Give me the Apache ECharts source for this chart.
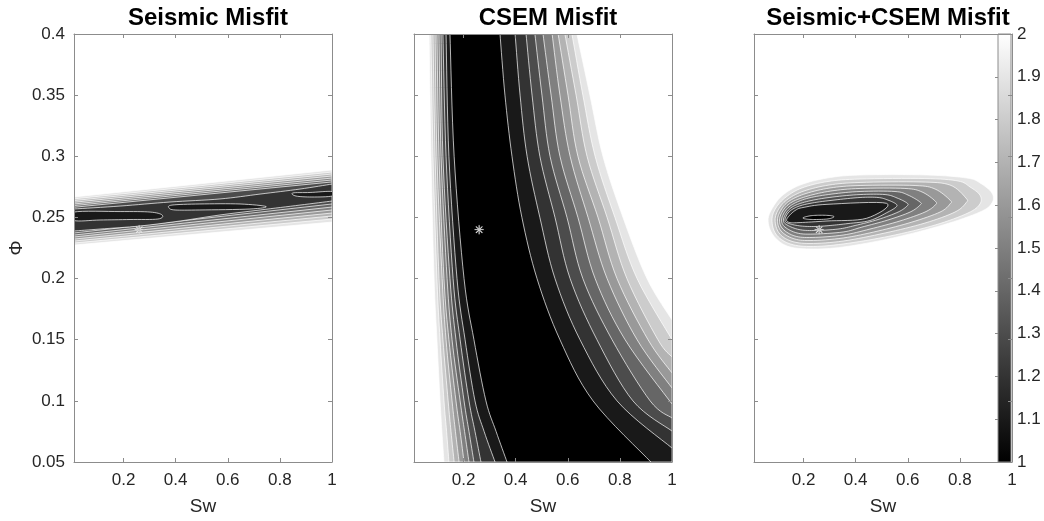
<!DOCTYPE html>
<html>
<head>
<meta charset="utf-8">
<script src="https://cdn.jsdelivr.net/npm/echarts@6/dist/echarts.min.js"></script>
<style>
  html, body { margin: 0; padding: 0; background: #ffffff; }
  #chart { width: 1044px; height: 521px; }
</style>
</head>
<body>
<div id="chart"></div>
<script>
// ---------- axes ----------
const panelTitles = ['Seismic Misfit', 'CSEM Misfit', 'Seismic+CSEM Misfit'];
const swRange = [0.01, 1];
const swTicks = [0.2, 0.4, 0.6, 0.8, 1];
const phiRange = [0.05, 0.4];
const phiStep = 0.05;
const misfitRange = [1, 2];
const misfitStep = 0.1;
const trueModel = [0.26, 0.24];           // [Sw, Φ] marked with an asterisk

// ---------- Seismic misfit ----------
// outer levels: nearly straight bands, Φ at Sw = 0.01 and Sw = 1
const seismicLevels = [2.0, 1.9, 1.8, 1.7, 1.6, 1.5, 1.4];
const seismicTop = [
  [0.2667, 0.2888], [0.2652, 0.2871], [0.2638, 0.2855], [0.2624, 0.2839],
  [0.2610, 0.2822], [0.2597, 0.2806], [0.2583, 0.2790]
];
const seismicBottom = [
  [0.2274, 0.2462], [0.2291, 0.2487], [0.2307, 0.2512], [0.2323, 0.2536],
  [0.2340, 0.2561], [0.2356, 0.2585], [0.2373, 0.2610]
];
// level 1.3 contour (dark core): upper and lower edges
const seismicCoreTop = [
  [0.01, 0.2569], [0.187, 0.2593], [0.378, 0.2626], [0.570, 0.2651], [0.724, 0.2691],
  [0.877, 0.2732], [1.0, 0.2773]
];
const seismicCoreBottom = [
  [1.0, 0.2634], [0.877, 0.2601], [0.724, 0.2561], [0.570, 0.2520], [0.417, 0.2471],
  [0.263, 0.2430], [0.110, 0.2405], [0.01, 0.2389]
];
// level 1.2 contours (three elongated minima)
const seismicLenses = [
  [[0.01, 0.2544], [0.187, 0.2548], [0.302, 0.2544], [0.348, 0.2520], [0.332, 0.2487],
   [0.225, 0.2483], [0.110, 0.2479], [0.01, 0.2475]],
  [[0.386, 0.2601], [0.493, 0.2610], [0.647, 0.2610], [0.747, 0.2589], [0.685, 0.2569],
   [0.493, 0.2561], [0.398, 0.2561], [0.375, 0.2577]],
  [[0.850, 0.2700], [0.916, 0.2704], [1.0, 0.2712], [1.0, 0.2675], [0.923, 0.2667], [0.862, 0.2675]]
];

// ---------- CSEM misfit ----------
const csemLevels = [2.0, 1.9, 1.8, 1.7, 1.6, 1.5, 1.4, 1.3, 1.2, 1.1];
// left branch of each contour: Sw at these Φ rows (top to bottom)
const csemLeftRows = [0.40, 0.30, 0.20, 0.15, 0.10, 0.075, 0.05];
const csemLeftSw = [
  [0.068, 0.075, 0.087, 0.098, 0.110, 0.117, 0.125],
  [0.075, 0.083, 0.098, 0.110, 0.125, 0.135, 0.144],
  [0.083, 0.091, 0.106, 0.121, 0.141, 0.152, 0.164],
  [0.091, 0.098, 0.118, 0.133, 0.156, 0.169, 0.183],
  [0.098, 0.106, 0.125, 0.144, 0.171, 0.187, 0.202],
  [0.106, 0.114, 0.137, 0.156, 0.187, 0.204, 0.221],
  [0.114, 0.121, 0.148, 0.171, 0.202, 0.221, 0.240],
  [0.121, 0.133, 0.160, 0.187, 0.221, 0.244, 0.267],
  [0.133, 0.144, 0.175, 0.206, 0.244, 0.279, 0.321],
  [0.148, 0.164, 0.202, 0.240, 0.286, 0.325, 0.367]
];
// right branch: Sw at these Φ rows, then the point where it leaves the domain
const csemRightRows = [0.40, 0.35, 0.30, 0.25, 0.20, 0.15, 0.10];
const csemRightSw = [
  [0.635, 0.685, 0.735, 0.812, 0.904],
  [0.616, 0.658, 0.705, 0.781, 0.866],
  [0.589, 0.632, 0.674, 0.751, 0.827, 0.946],
  [0.563, 0.601, 0.639, 0.716, 0.789, 0.908],
  [0.540, 0.570, 0.609, 0.678, 0.751, 0.866],
  [0.505, 0.536, 0.570, 0.639, 0.705, 0.820],
  [0.474, 0.501, 0.532, 0.597, 0.658, 0.770, 0.916],
  [0.440, 0.463, 0.493, 0.551, 0.609, 0.712, 0.850],
  [0.398, 0.417, 0.444, 0.493, 0.551, 0.647, 0.789],
  [0.340, 0.359, 0.386, 0.424, 0.482, 0.570, 0.697]
];
const csemRightExit = [
  [1, 0.1661], [1, 0.15], [1, 0.1359], [1, 0.1228], [1, 0.1105],
  [1, 0.0974], [1, 0.0860], [1, 0.0753], [1, 0.0614], [0.919, 0.05]
];

// ---------- Seismic+CSEM misfit ----------
const jointLevels = [2.0, 1.9, 1.8, 1.7, 1.6, 1.5, 1.4, 1.3, 1.2, 1.1];
const jointContours = [
  [[0.064, 0.2479], [0.083, 0.2585], [0.121, 0.2683], [0.187, 0.2765], [0.290, 0.2822], [0.417, 0.2847],
   [0.674, 0.2847], [0.827, 0.2822], [0.877, 0.2782], [0.923, 0.2700], [0.923, 0.2618], [0.877, 0.2544],
   [0.735, 0.2438], [0.543, 0.2332], [0.352, 0.2258], [0.225, 0.2242], [0.137, 0.2266], [0.083, 0.2356]],
  [[0.079, 0.2479], [0.094, 0.2577], [0.133, 0.2667], [0.194, 0.2741], [0.294, 0.2794], [0.417, 0.2814],
   [0.666, 0.2818], [0.793, 0.2798], [0.839, 0.2749], [0.877, 0.2683], [0.877, 0.2610], [0.831, 0.2536],
   [0.705, 0.2438], [0.532, 0.2348], [0.352, 0.2283], [0.225, 0.2262], [0.144, 0.2287], [0.094, 0.2364]],
  [[0.091, 0.2479], [0.106, 0.2573], [0.141, 0.2651], [0.202, 0.2716], [0.298, 0.2765], [0.417, 0.2786],
   [0.647, 0.2790], [0.762, 0.2765], [0.823, 0.2659], [0.823, 0.2618], [0.781, 0.2544], [0.666, 0.2454],
   [0.513, 0.2373], [0.352, 0.2307], [0.225, 0.2287], [0.152, 0.2307], [0.106, 0.2373]],
  [[0.100, 0.2479], [0.116, 0.2569], [0.148, 0.2638], [0.210, 0.2696], [0.302, 0.2741], [0.417, 0.2761],
   [0.628, 0.2761], [0.705, 0.2732], [0.762, 0.2642], [0.762, 0.2610], [0.724, 0.2544], [0.616, 0.2462],
   [0.486, 0.2389], [0.352, 0.2332], [0.225, 0.2311], [0.160, 0.2328], [0.114, 0.2389]],
  [[0.108, 0.2479], [0.123, 0.2561], [0.156, 0.2626], [0.217, 0.2675], [0.305, 0.2716], [0.417, 0.2737],
   [0.589, 0.2737], [0.655, 0.2708], [0.705, 0.2634], [0.705, 0.2601], [0.666, 0.2544], [0.570, 0.2471],
   [0.455, 0.2405], [0.352, 0.2356], [0.233, 0.2336], [0.167, 0.2348], [0.121, 0.2405]],
  [[0.116, 0.2479], [0.131, 0.2556], [0.164, 0.2614], [0.221, 0.2659], [0.309, 0.2691], [0.417, 0.2712],
   [0.551, 0.2712], [0.601, 0.2683], [0.647, 0.2626], [0.647, 0.2601], [0.609, 0.2544], [0.524, 0.2479],
   [0.424, 0.2421], [0.352, 0.2381], [0.236, 0.2364], [0.175, 0.2373], [0.129, 0.2421]],
  [[0.123, 0.2479], [0.139, 0.2552], [0.171, 0.2601], [0.229, 0.2638], [0.313, 0.2667], [0.417, 0.2687],
   [0.513, 0.2687], [0.559, 0.2659], [0.597, 0.2618], [0.597, 0.2593], [0.563, 0.2544], [0.486, 0.2483],
   [0.398, 0.2434], [0.332, 0.2405], [0.240, 0.2393], [0.183, 0.2401], [0.137, 0.2438]],
  [[0.129, 0.2479], [0.144, 0.2544], [0.179, 0.2589], [0.233, 0.2618], [0.317, 0.2642], [0.417, 0.2663],
   [0.486, 0.2663], [0.524, 0.2642], [0.555, 0.2610], [0.555, 0.2585], [0.524, 0.2544], [0.455, 0.2475],
   [0.371, 0.2450], [0.302, 0.2434], [0.244, 0.2426], [0.190, 0.2430], [0.144, 0.2450]],
  [[0.135, 0.2479], [0.148, 0.2520], [0.171, 0.2561], [0.198, 0.2581], [0.290, 0.2607], [0.519, 0.2615],
   [0.442, 0.2493], [0.290, 0.2471], [0.187, 0.2458], [0.148, 0.2458]],
  [[0.198, 0.2497], [0.225, 0.2513], [0.263, 0.2518], [0.302, 0.2515], [0.317, 0.2505], [0.294, 0.2488],
   [0.244, 0.2483], [0.210, 0.2487]]
];

// ---------- build filled contour regions (outermost first) ----------
// each region: list of segments; smooth segments are drawn as splines through their points
const seismicShapes = seismicLevels.map((lv, i) => ({
  level: lv,
  segs: [
    { smooth: false, pts: [[swRange[0], seismicTop[i][0]], [swRange[1], seismicTop[i][1]]] },
    { smooth: false, pts: [[swRange[1], seismicBottom[i][1]], [swRange[0], seismicBottom[i][0]]] }
  ]
})).concat([{
  level: 1.3,
  segs: [{ smooth: true, pts: seismicCoreTop }, { smooth: true, pts: seismicCoreBottom }]
}]).concat(seismicLenses.map(p => ({ level: 1.2, loop: p })));

const csemShapes = csemLevels.map((lv, i) => {
  const left = csemLeftRows.map((phi, r) => [csemLeftSw[i][r], phi]);
  const right = csemRightSw[i].map((sw, r) => [sw, csemRightRows[r]]);
  right.push(csemRightExit[i]);
  const segs = [{ smooth: true, pts: left }];
  if (csemRightExit[i][1] > phiRange[0]) segs.push({ smooth: false, pts: [[swRange[1], phiRange[0]]] });
  segs.push({ smooth: true, pts: right.reverse() });
  return { level: lv, segs: segs };
});

const jointShapes = jointLevels.map((lv, i) => ({ level: lv, loop: jointContours[i] }));

// band fill: region enclosed by level L holds values in [L-0.1, L]
function grayFor(level) {
  const t = Math.max(0, Math.min(1, (level - misfitStep - misfitRange[0]) / (misfitRange[1] - misfitRange[0])));
  const g = Math.round(t * 255);
  return 'rgb(' + g + ',' + g + ',' + g + ')';
}

// Catmull-Rom spline through pixel points
function crPoint(p0, p1, p2, p3, t) {
  const t2 = t * t, t3 = t2 * t;
  return [0, 1].map(k => 0.5 * (2 * p1[k] + (-p0[k] + p2[k]) * t +
    (2 * p0[k] - 5 * p1[k] + 4 * p2[k] - p3[k]) * t2 + (-p0[k] + 3 * p1[k] - 3 * p2[k] + p3[k]) * t3));
}
function splineOpen(P) {
  if (P.length < 3) return P.slice();
  const out = [P[0]];
  for (let i = 0; i < P.length - 1; i++) {
    const p0 = P[Math.max(0, i - 1)], p1 = P[i], p2 = P[i + 1], p3 = P[Math.min(P.length - 1, i + 2)];
    for (let s = 1; s <= 8; s++) out.push(crPoint(p0, p1, p2, p3, s / 8));
  }
  return out;
}
function splineClosed(P) {
  const n = P.length, out = [];
  for (let i = 0; i < n; i++) {
    const p0 = P[(i - 1 + n) % n], p1 = P[i], p2 = P[(i + 1) % n], p3 = P[(i + 2) % n];
    for (let s = 0; s < 8; s++) out.push(crPoint(p0, p1, p2, p3, s / 8));
  }
  return out;
}

function contourSeries(shapes, idx) {
  return {
    type: 'custom',
    xAxisIndex: idx * 2,
    yAxisIndex: idx * 2,
    silent: true,
    z: 2,
    data: shapes.map(s => [s.level]),
    renderItem: function (params, api) {
      const s = shapes[params.dataIndex];
      const cs = params.coordSys;
      let points;
      if (s.loop) {
        points = splineClosed(s.loop.map(p => api.coord(p)));
      } else {
        points = [];
        s.segs.forEach(seg => {
          const px = seg.pts.map(p => api.coord(p));
          points = points.concat(seg.smooth ? splineOpen(px) : px);
        });
      }
      return {
        type: 'group',
        clipPath: { type: 'rect', shape: { x: cs.x, y: cs.y, width: cs.width, height: cs.height } },
        children: [{
          type: 'polygon',
          shape: { points: points },
          style: { fill: grayFor(s.level), stroke: '#ffffff', lineWidth: 0.7 }
        }]
      };
    }
  };
}

const asterisk = 'path://M-0.5,-5L0.5,-5L0.5,5L-0.5,5Z M-5,-0.5L5,-0.5L5,0.5L-5,0.5Z ' +
  'M-3.9,-3.2L-3.2,-3.9L3.9,3.2L3.2,3.9Z M3.2,-3.9L3.9,-3.2L-3.2,3.9L-3.9,3.2Z';

function starSeries(idx) {
  return {
    type: 'scatter',
    xAxisIndex: idx * 2,
    yAxisIndex: idx * 2,
    silent: true,
    z: 4,
    symbol: asterisk,
    symbolSize: 9,
    itemStyle: { color: '#ffffff', borderColor: '#a0a0a0', borderWidth: 0.25, opacity: 1 },
    data: [trueModel]
  };
}

// ---------- layout & styling ----------
const fontFamily = "'Liberation Sans', Arial, Helvetica, sans-serif";
const axisColor = '#8c8c8c';
const textColor = '#262626';
const tickFont = 17, labelFont = 19, titleFont = 24;
const gridLefts = [74, 414, 754];
const gridTop = 34, gridW = 258, gridH = 428;

function fmt(v) { return String(parseFloat(v.toFixed(2))); }

const grids = gridLefts.map(l => ({ left: l, top: gridTop, width: gridW, height: gridH }));
grids.push({ left: 998, top: gridTop, width: 13, height: gridH });

const xAxes = [], yAxes = [];
gridLefts.forEach((l, p) => {
  ['bottom', 'top'].forEach(pos => {
    xAxes.push({
      type: 'value', gridIndex: p, position: pos, min: swRange[0], max: swRange[1], z: 5,
      axisLine: { show: true, onZero: false, lineStyle: { color: axisColor, width: 1 } },
      axisTick: { show: true, inside: true, length: 4, customValues: swTicks, lineStyle: { color: axisColor } },
      axisLabel: { show: pos === 'bottom', customValues: swTicks, margin: 10, color: textColor,
                   fontSize: tickFont, fontFamily: fontFamily, formatter: fmt },
      splitLine: { show: false },
      name: pos === 'bottom' ? 'Sw' : '', nameLocation: 'middle', nameGap: 35,
      nameTextStyle: { color: textColor, fontSize: labelFont, fontFamily: fontFamily }
    });
  });
  ['left', 'right'].forEach(pos => {
    yAxes.push({
      type: 'value', gridIndex: p, position: pos, min: phiRange[0], max: phiRange[1], interval: phiStep, z: 5,
      axisLine: { show: true, onZero: false, lineStyle: { color: axisColor, width: 1 } },
      axisTick: { show: true, inside: true, length: 4, lineStyle: { color: axisColor } },
      axisLabel: { show: p === 0 && pos === 'left', margin: 9, color: textColor,
                   fontSize: tickFont, fontFamily: fontFamily, formatter: fmt },
      splitLine: { show: false },
      name: (p === 0 && pos === 'left') ? 'Φ' : '', nameLocation: 'middle', nameGap: 48, nameRotate: 90,
      nameTextStyle: { color: textColor, fontSize: labelFont, fontFamily: fontFamily }
    });
  });
});
// colorbar axes
xAxes.push({ type: 'value', gridIndex: 3, min: 0, max: 1, show: false });
yAxes.push({
  type: 'value', gridIndex: 3, position: 'right', min: misfitRange[0], max: misfitRange[1], interval: misfitStep, z: 5,
  axisLine: { show: false },
  axisTick: { show: true, inside: true, length: 3, lineStyle: { color: axisColor } },
  axisLabel: { margin: 6, color: textColor, fontSize: tickFont, fontFamily: fontFamily, formatter: fmt },
  splitLine: { show: false }
});

const colorbarSeries = {
  type: 'custom',
  xAxisIndex: 6,
  yAxisIndex: 6,
  silent: true,
  z: 3,
  data: [[0, misfitRange[0], 1, misfitRange[1]]],
  renderItem: function (params, api) {
    const a = api.coord([api.value(0), api.value(3)]);
    const b = api.coord([api.value(2), api.value(1)]);
    return {
      type: 'rect',
      shape: { x: a[0], y: a[1], width: b[0] - a[0], height: b[1] - a[1] },
      style: {
        fill: new echarts.graphic.LinearGradient(0, 0, 0, 1, [
          { offset: 0, color: '#ffffff' }, { offset: 1, color: '#000000' }
        ]),
        stroke: axisColor, lineWidth: 1
      }
    };
  }
};

const chart = echarts.init(document.getElementById('chart'), null, { renderer: 'canvas' });
chart.setOption({
  animation: false,
  backgroundColor: '#ffffff',
  title: panelTitles.map((t, p) => ({
    text: t, left: gridLefts[p] + gridW / 2, top: 1, textAlign: 'center',
    textStyle: { fontSize: titleFont, fontWeight: 'bold', color: '#000000', fontFamily: fontFamily }
  })),
  grid: grids,
  xAxis: xAxes,
  yAxis: yAxes,
  series: [
    contourSeries(seismicShapes, 0),
    contourSeries(csemShapes, 1),
    contourSeries(jointShapes, 2),
    starSeries(0), starSeries(1), starSeries(2),
    colorbarSeries
  ]
});
</script>
</body>
</html>
